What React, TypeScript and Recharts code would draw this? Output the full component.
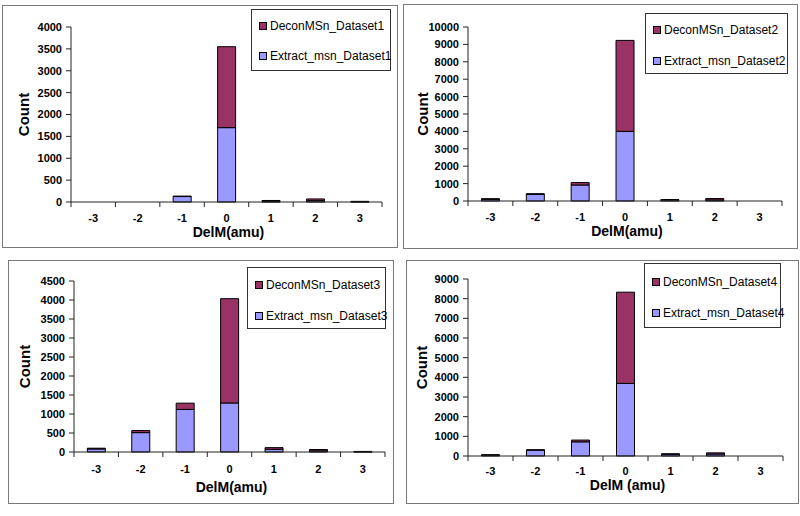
import { BarChart, Bar, XAxis, YAxis, Label } from "recharts";

const categories = ["-3", "-2", "-1", "0", "1", "2", "3"];

// panel 1
const extract1 = [0, 0, 125, 1700, 10, 30, 5];
const decon1 = [0, 0, 10, 1850, 25, 40, 10];
// panel 2
const extract2 = [100, 380, 920, 4000, 70, 60, 0];
const decon2 = [30, 40, 140, 5230, 10, 80, 0];
// panel 3
const extract3 = [80, 510, 1120, 1290, 70, 30, 5];
const decon3 = [20, 55, 165, 2745, 45, 35, 10];
// panel 4
const extract4 = [50, 300, 720, 3690, 90, 100, 0];
const decon4 = [10, 15, 90, 4640, 20, 60, 0];

const yTicks1 = [0, 500, 1000, 1500, 2000, 2500, 3000, 3500, 4000];
const yTicks2 = [0, 1000, 2000, 3000, 4000, 5000, 6000, 7000, 8000, 9000, 10000];
const yTicks3 = [0, 500, 1000, 1500, 2000, 2500, 3000, 3500, 4000, 4500];
const yTicks4 = [0, 1000, 2000, 3000, 4000, 5000, 6000, 7000, 8000, 9000];

const DECON = "#993366";
const EXTRACT = "#9999FF";
const AXIS = "#222";
const FONT = "'Liberation Sans', Arial, sans-serif";

const buildRows = (extract: number[], decon: number[]) =>
  categories.map((c, i) => ({ cat: c, extract: extract[i], decon: decon[i] }));

interface PanelProps {
  left: number;
  top: number;
  width: number;
  height: number;
  extract: number[];
  decon: number[];
  yTicks: number[];
  plotLeft: number;
  plotTop: number;
  marginRight: number;
  marginBottom: number;
  countX: number;
  xTitle: string;
  xTitleDy: number;
  tickDy: number;
  legend: { left: number; top: number; width: number; height: number; r1: number; r2: number };
  n: number;
}

function Panel(p: PanelProps) {
  const data = buildRows(p.extract, p.decon);
  const chartW = p.width - 2;
  const chartH = p.height - 2;
  const plotW = chartW - p.plotLeft - p.marginRight;
  const plotH = chartH - p.plotTop - p.marginBottom;
  const axisY = p.plotTop + plotH;
  const band = plotW / categories.length;

  const XTick = (props: any) => {
    const { x, payload, index } = props;
    return (
      <g>
        <line x1={x - band / 2} x2={x - band / 2} y1={axisY} y2={axisY + 5} stroke={AXIS} />
        {index === categories.length - 1 && (
          <line x1={x + band / 2} x2={x + band / 2} y1={axisY} y2={axisY + 5} stroke={AXIS} />
        )}
        <text x={x} y={axisY + p.tickDy} textAnchor="middle" fontSize={11} fontWeight="bold" fontFamily={FONT} fill="#000">
          {payload.value}
        </text>
      </g>
    );
  };

  const legendRow = (color: string, text: string, cy: number) => (
    <div style={{ position: "absolute", left: 7, top: cy - 8, height: 16, display: "flex", alignItems: "center" }}>
      <div style={{ width: 6, height: 6, background: color, border: "1px solid #000", marginRight: 3 }} />
      <span style={{ fontSize: 12, fontFamily: FONT, color: "#000", whiteSpace: "nowrap" }}>{text}</span>
    </div>
  );

  return (
    <div
      style={{
        position: "absolute",
        left: p.left,
        top: p.top,
        width: p.width,
        height: p.height,
        boxSizing: "border-box",
        border: "1px solid #7a7a7a",
        background: "#fff",
      }}
    >
      <BarChart
        width={chartW}
        height={chartH}
        data={data}
        margin={{ top: p.plotTop, right: p.marginRight, bottom: 0, left: 0 }}
        barCategoryGap="30%"
      >
        <XAxis
          dataKey="cat"
          height={p.marginBottom}
          interval={0}
          tickLine={false}
          axisLine={{ stroke: AXIS }}
          tick={<XTick />}
        >
          <Label
            content={() => (
              <text
                x={p.plotLeft + plotW / 2 + 2}
                y={axisY + p.xTitleDy}
                textAnchor="middle"
                fontSize={14}
                fontWeight="bold"
                fontFamily={FONT}
                fill="#000"
              >
                {p.xTitle}
              </text>
            )}
          />
        </XAxis>
        <YAxis
          width={p.plotLeft}
          domain={[0, p.yTicks[p.yTicks.length - 1]]}
          ticks={p.yTicks}
          interval={0}
          tickSize={5}
          tickMargin={4}
          axisLine={{ stroke: AXIS }}
          tickLine={{ stroke: AXIS }}
          tick={{ fontSize: 11, fontWeight: "bold", fontFamily: FONT, fill: "#000" }}
        >
          <Label
            content={() => (
              <text
                x={p.countX}
                y={p.plotTop + plotH / 2}
                transform={`rotate(-90, ${p.countX}, ${p.plotTop + plotH / 2})`}
                textAnchor="middle"
                dominantBaseline="central"
                fontSize={15}
                fontWeight="bold"
                fontFamily={FONT}
                fill="#000"
              >
                Count
              </text>
            )}
          />
        </YAxis>
        <Bar dataKey="extract" stackId="s" fill={EXTRACT} stroke="#000" strokeWidth={1} isAnimationActive={false} />
        <Bar dataKey="decon" stackId="s" fill={DECON} stroke="#000" strokeWidth={1} isAnimationActive={false} />
      </BarChart>
      <div
        style={{
          position: "absolute",
          left: p.legend.left,
          top: p.legend.top,
          width: p.legend.width,
          height: p.legend.height,
          boxSizing: "border-box",
          border: "1px solid #333",
          background: "#fff",
        }}
      >
        {legendRow(DECON, `DeconMSn_Dataset${p.n}`, p.legend.r1)}
        {legendRow(EXTRACT, `Extract_msn_Dataset${p.n}`, p.legend.r2)}
      </div>
    </div>
  );
}

export default function App() {
  return (
    <div style={{ position: "fixed", left: 0, top: 0, width: 800, height: 516, background: "#fff", overflow: "hidden" }}>
      <Panel
        n={1}
        left={2}
        top={5}
        width={396}
        height={243}
        extract={extract1}
        decon={decon1}
        yTicks={yTicks1}
        plotLeft={68}
        plotTop={21}
        marginRight={15}
        marginBottom={45}
        countX={20}
        xTitle="DelM(amu)"
        xTitleDy={35}
        tickDy={20}
        legend={{ left: 248, top: 3, width: 140, height: 62, r1: 16, r2: 46 }}
      />
      <Panel
        n={2}
        left={403}
        top={4}
        width={395}
        height={245}
        extract={extract2}
        decon={decon2}
        yTicks={yTicks2}
        plotLeft={64}
        plotTop={22}
        marginRight={15}
        marginBottom={47}
        countX={18}
        xTitle="DelM(amu)"
        xTitleDy={35}
        tickDy={20}
        legend={{ left: 241, top: 8, width: 143, height: 61, r1: 16, r2: 47 }}
      />
      <Panel
        n={3}
        left={8}
        top={260}
        width={386}
        height={244}
        extract={extract3}
        decon={decon3}
        yTicks={yTicks3}
        plotLeft={65}
        plotTop={20}
        marginRight={8}
        marginBottom={51}
        countX={15}
        xTitle="DelM(amu)"
        xTitleDy={40}
        tickDy={21}
        legend={{ left: 238, top: 6, width: 139, height: 62, r1: 17, r2: 48 }}
      />
      <Panel
        n={4}
        left={406}
        top={260}
        width={393}
        height={244}
        extract={extract4}
        decon={decon4}
        yTicks={yTicks4}
        plotLeft={61}
        plotTop={18}
        marginRight={15}
        marginBottom={47}
        countX={14}
        xTitle="DelM (amu)"
        xTitleDy={34}
        tickDy={19}
        legend={{ left: 237, top: 2, width: 137, height: 65, r1: 18, r2: 49 }}
      />
    </div>
  );
}
